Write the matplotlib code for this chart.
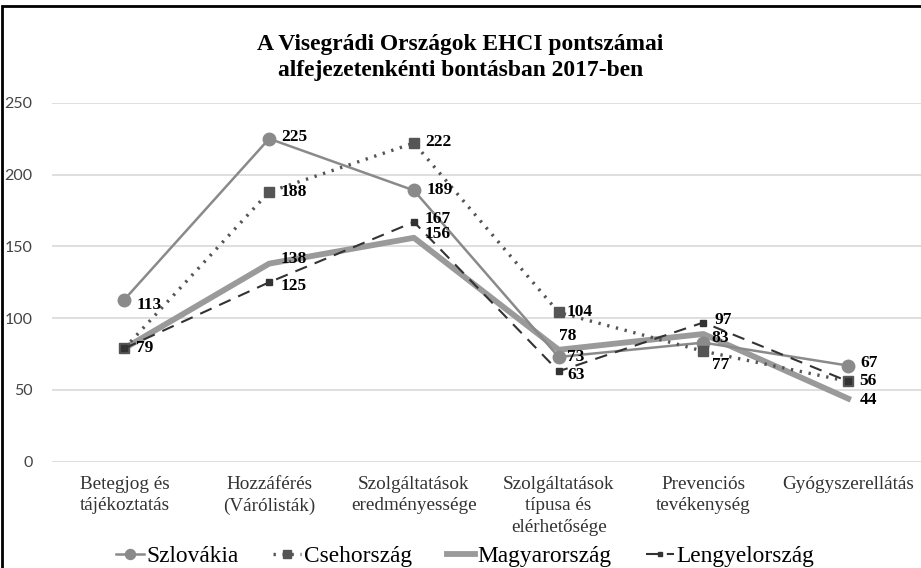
import matplotlib.pyplot as plt
from matplotlib.patches import Rectangle

categories = ["Betegjog és\ntájékoztatás", "Hozzáférés\n(Várólisták)", "Szolgáltatások\neredményessége",
              "Szolgáltatások\ntípusa és\nelérhetősége", "Prevenciós\ntevékenység", "Gyógyszerellátás"]
szlovakia = [113, 225, 189, 73, 83, 67]
csehorszag = [79, 188, 222, 104, 77, 56]
magyarorszag = [79, 138, 156, 78, 89, 44]
lengyelorszag = [79, 125, 167, 63, 97, 56]

# which points get a visible data label (overlapping ones are hidden like in the original)
show_szk = [1, 1, 1, 1, 1, 1]
show_cz = [1, 1, 1, 1, 1, 1]
show_hu = [0, 1, 1, 1, 0, 1]
show_pl = [0, 1, 1, 1, 1, 0]

serif = "Liberation Serif"
x = range(len(categories))

fig = plt.figure(figsize=(9.21, 5.68), dpi=100)
ax = fig.add_axes([0.0565, 0.187, 0.943, 0.632])

ax.plot(x, szlovakia, color="#8a8a8a", lw=1.8, marker="o", ms=9, label="Szlovákia", zorder=3)
ax.plot(x, csehorszag, color="#555555", lw=2.4, ls=(0, (0.7, 2.0)), marker="s", ms=7,
        label="Csehország", zorder=3)
ax.plot(x, magyarorszag, color="#9a9a9a", lw=4.2, label="Magyarország", zorder=2)
ax.plot(x, lengyelorszag, color="#333333", lw=1.5, ls=(0, (6, 4)), marker="s", ms=4,
        label="Lengyelország", zorder=3)

def labels(vals, show, dx, dy):
    for i, (v, s) in enumerate(zip(vals, show)):
        if s:
            ax.annotate(str(v), (i, v), xytext=(dx[i], dy[i]), textcoords="offset points",
                        ha="left", va="center", fontsize=12.5, fontweight="bold", family=serif)

labels(szlovakia, show_szk, [9, 9, 9, 6, 6, 9], [-4, 1, 0, 0, 3, 2])
labels(csehorszag, show_cz, [8, 8, 8, 6, 6, 8], [0, 0, 1, 0, -10, 0])
labels(magyarorszag, show_hu, [8, 8, 8, 0, 8, 8], [0, 3, 3, 10, 0, -1])
labels(lengyelorszag, show_pl, [8, 8, 8, 6, 8, 8], [0, -3, 2, -3, 2, 0])

ax.set_ylim(0, 250)
ax.set_yticks([0, 50, 100, 150, 200, 250])
ax.set_xlim(-0.5, 5.5)
ax.set_xticks(list(x))
ax.set_xticklabels(categories, family=serif, fontsize=13.8, color="#333333", linespacing=1.36)
ax.grid(axis="y", color="#d9d9d9", lw=1.2)
ax.set_axisbelow(True)
for sp in ax.spines.values():
    sp.set_visible(False)
ax.tick_params(axis="y", length=0, pad=14, labelsize=11.5, labelcolor="#444444")
ax.tick_params(axis="x", length=0, pad=10)
for t in ax.get_yticklabels():
    t.set_family("Lato")

fig.text(0.5, 0.899, "A Visegrádi Országok EHCI pontszámai\nalfejezetenkénti bontásban 2017-ben",
         ha="center", va="center", family=serif, fontweight="bold", fontsize=16.9, linespacing=1.3)

leg = fig.legend(loc="lower center", bbox_to_anchor=(0.505, -0.036), ncol=4, frameon=False,
                 prop={"family": serif, "size": 16.8}, handlelength=1.2, handletextpad=0.1,
                 columnspacing=1.5, markerscale=0.8)

fig.patches.append(Rectangle((0.002, -0.01), 1.1, 1.0, transform=fig.transFigure,
                             fill=False, edgecolor="black", lw=2))

fig.savefig("out.png", dpi=100)
